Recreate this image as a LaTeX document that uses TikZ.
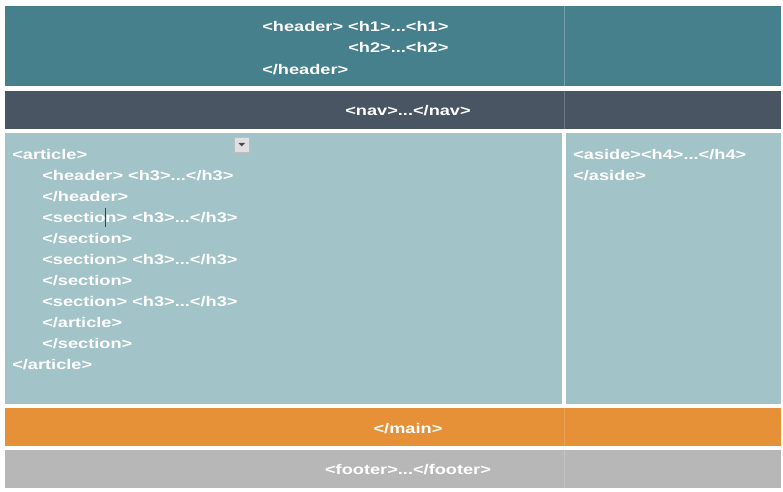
\documentclass[tikz,border=0pt]{standalone}
\usepackage{fontspec}
\setmainfont{Liberation Sans}[FakeStretch=1.3]
\definecolor{hdrteal}{HTML}{46808C}
\definecolor{navslate}{HTML}{4A5563}
\definecolor{bodyblue}{HTML}{A2C3C7}
\definecolor{mainorange}{HTML}{E69138}
\definecolor{footgray}{HTML}{B7B7B7}
\tikzset{
    %text of the tags
    tag/.style={
      text=white,
      font=\bfseries\fontsize{10.5}{15.75}\selectfont,
      inner sep=0pt,
      anchor=base west},
    midtag/.style={
      tag,
      anchor=base},
    divider/.style={
      draw=#1, line width=0.75pt},
}

\begin{document}
\begin{tikzpicture}[x=0.75pt, y=-0.75pt]
    \useasboundingbox (0,0) rectangle (783,492);
    % rows of the page
    \fill[hdrteal]    (5,6)     rectangle (781,86);
    \fill[navslate]   (5,90.7)  rectangle (781,128.7);
    \fill[bodyblue]   (5,133)   rectangle (562,404);
    \fill[bodyblue]   (566,133) rectangle (781,404);
    \fill[mainorange] (5,408)   rectangle (781,446);
    \fill[footgray]   (5,450)   rectangle (781,488);
    \draw[divider=hdrteal!75!white]    (564.5,6)   -- (564.5,86);
    \draw[divider=navslate!80!white]   (564.5,90.7) -- (564.5,128.7);
    \draw[divider=mainorange!85!white] (564.5,408) -- (564.5,446);
    \draw[divider=footgray!85!white]   (564.5,450) -- (564.5,488);

    % header
    \node (hd1) [tag] at (262,31.5) {<header> <h1>...<h1>};
    \node (hd2) [tag] at (262,53) {\phantom{<header> }<h2>...<h2>};
    \node (hd3) [tag] at (262,74.5) {</header>};
    \node (nav) [midtag] at (408,116) {<nav>...</nav>};

    % article
    \foreach \ind/\txt [count=\i] in {12/{<article>}, 42/{<header> <h3>...</h3>},
        42/{</header>}, 42/{<section> <h3>...</h3>}, 42/{</section>},
        42/{<section> <h3>...</h3>}, 42/{</section>}, 42/{<section> <h3>...</h3>},
        42/{</article>}, 42/{</section>}, 12/{</article>}}
      \node (art\i) [tag] at (\ind,138.5+21*\i) {\txt};
    % text cursor and drop-down button
    \draw[black!75, line width=0.75pt] (105.5,208) -- (105.5,226.5);
    \filldraw[fill=black!12, draw=black!25, line width=0.75pt] (234.5,137.5) rectangle (249.5,152.5);
    \fill[black!70] (238.5,143) -- (245,143) -- (241.75,146.5) -- cycle;

    % aside
    \node (as1) [tag] at (573,159.5) {<aside><h4>...</h4>};
    \node (as2) [tag] at (573,180.5) {</aside>};

    % main and footer
    \node (main) [midtag] at (408,433) {</main>};
    \node (foot) [midtag] at (408,474) {<footer>...</footer>};
\end{tikzpicture}
\end{document}
